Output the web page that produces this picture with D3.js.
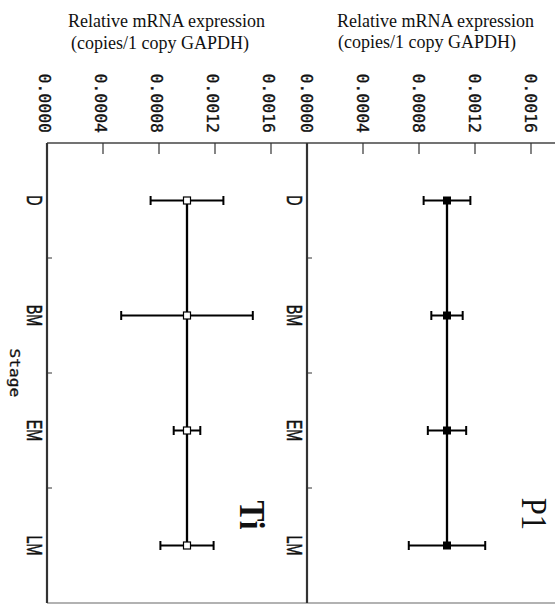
<!DOCTYPE html>
<html>
<head>
<meta charset="utf-8">
<script src="https://cdn.jsdelivr.net/npm/d3@7"></script>
<style>
  html, body { margin: 0; padding: 0; background: #fff; }
  svg { display: block; }
</style>
</head>
<body>
<svg id="chart" width="555" height="604"></svg>
<script>
// ---- data ----
const stages = ["D", "BM", "EM", "LM"];
const valueTicks = [0, 0.0004, 0.0008, 0.0012, 0.0016];
const tiMean = [0.00100, 0.00100, 0.00100, 0.00100];
const tiErr  = [0.00026, 0.00047, 0.000095, 0.00019];
const p1Mean = [0.00100, 0.00100, 0.00100, 0.00100];
const p1Err  = [0.000167, 0.000112, 0.000137, 0.000273];
const titleLine1 = "Relative mRNA expression";
const titleLine2 = "(copies/1 copy GAPDH)";
const stageTitle = "Stage";

// ---- layout ----
const svg = d3.select("#chart");
const plotTop = 143, plotBottom = 603;
const pxPerUnit = 140000;

const panels = [
  { name: "Ti", x0: 47, mean: tiMean, err: tiErr, filled: false, bold: true,
    t1: [68, 27], t2: [71, 49], tickDx: -2, catX: 27, label: [240, 515, 35, 0.9] },
  { name: "P1", x0: 307, mean: p1Mean, err: p1Err, filled: true, bold: false,
    t1: [337, 27], t2: [338, 48], tickDx: 0, catX: 287, label: [522, 514, 36, 0.85] }
];

const yPoint = d3.scalePoint().domain(stages).range([plotTop, plotBottom]).padding(0.5);
const yBand = d3.scaleBand().domain(stages).range([plotTop, plotBottom]);

// top border line and bottom line
svg.append("line").attr("x1", 47).attr("x2", 555).attr("y1", plotTop).attr("y2", plotTop)
  .attr("stroke", "#444").attr("stroke-width", 1.5);
svg.append("line").attr("x1", 47).attr("x2", 555).attr("y1", plotBottom).attr("y2", plotBottom)
  .attr("stroke", "#999").attr("stroke-width", 1.5);

panels.forEach(p => {
  const x = d3.scaleLinear().domain([0, 0.0016]).range([p.x0, p.x0 + 0.0016 * pxPerUnit]);
  const g = svg.append("g");

  // titles
  g.append("text").attr("x", p.t1[0]).attr("y", p.t1[1]).text(titleLine1)
    .attr("font-family", "Liberation Serif, Times New Roman, serif").attr("font-size", 18).attr("fill", "#111");
  g.append("text").attr("x", p.t2[0]).attr("y", p.t2[1]).text(titleLine2)
    .attr("font-family", "Liberation Serif, Times New Roman, serif").attr("font-size", 18).attr("fill", "#111");

  // value ticks (pointing down from top border)
  valueTicks.forEach(v => {
    if (v > 0) {
      g.append("line").attr("x1", x(v)).attr("x2", x(v)).attr("y1", plotTop).attr("y2", plotTop + 11)
        .attr("stroke", "#333").attr("stroke-width", 1.2);
    }
    g.append("text")
      .attr("transform", `translate(${x(v) + p.tickDx},133) rotate(90)`)
      .attr("text-anchor", "end").attr("dy", "0.35em")
      .attr("font-family", "DejaVu Sans Mono, monospace").attr("font-size", 16.5)
      .attr("fill", "#111").attr("stroke", "#111").attr("stroke-width", 0.35)
      .text(d3.format(".4f")(v));
  });

  // category axis line
  g.append("line").attr("x1", p.x0).attr("x2", p.x0).attr("y1", plotTop).attr("y2", plotBottom)
    .attr("stroke", "#333").attr("stroke-width", 2.2);
  // category ticks at band boundaries
  stages.slice(1).forEach(s => {
    const yy = yBand(s);
    g.append("line").attr("x1", p.x0).attr("x2", p.x0 + 5).attr("y1", yy).attr("y2", yy)
      .attr("stroke", "#333").attr("stroke-width", 1);
  });
  // category labels
  stages.forEach(s => {
    g.append("text")
      .attr("transform", `translate(${p.catX},${yPoint(s)}) rotate(90) scale(0.65,1)`)
      .attr("text-anchor", "middle")
      .attr("font-family", "Liberation Sans, Arial, sans-serif").attr("font-size", 22)
      .attr("fill", "#111").attr("stroke", "#111").attr("stroke-width", 0.5)
      .text(s);
  });

  // connecting line
  const line = d3.line().x((d, i) => x(p.mean[i])).y(d => yPoint(d));
  g.append("path").datum(stages).attr("d", line).attr("fill", "none")
    .attr("stroke", "#000").attr("stroke-width", 2.3);

  // error bars
  stages.forEach((s, i) => {
    const yy = yPoint(s);
    const lo = x(p.mean[i] - p.err[i]), hi = x(p.mean[i] + p.err[i]);
    g.append("line").attr("x1", lo).attr("x2", hi).attr("y1", yy).attr("y2", yy)
      .attr("stroke", "#000").attr("stroke-width", 2);
    [lo, hi].forEach(xx => {
      g.append("line").attr("x1", xx).attr("x2", xx).attr("y1", yy - 4.5).attr("y2", yy + 4.5)
        .attr("stroke", "#000").attr("stroke-width", 2);
    });
  });

  // markers
  const ms = p.filled ? 8 : 7;
  stages.forEach((s, i) => {
    g.append("rect").attr("x", x(p.mean[i]) - ms / 2).attr("y", yPoint(s) - ms / 2)
      .attr("width", ms).attr("height", ms)
      .attr("fill", p.filled ? "#000" : "#fff")
      .attr("stroke", "#000").attr("stroke-width", p.filled ? 0 : 1.2);
  });

  // panel label
  g.append("text")
    .attr("transform", `translate(${p.label[0]},${p.label[1]}) rotate(90) scale(${p.label[3]},1)`)
    .attr("text-anchor", "middle")
    .attr("font-family", "Liberation Serif, Times New Roman, serif")
    .attr("font-weight", p.bold ? "bold" : "normal")
    .attr("font-size", p.label[2]).attr("fill", "#111")
    .text(p.name);
});

// Stage axis title
svg.append("text")
  .attr("transform", `translate(10,${yBand("EM")}) rotate(90) scale(1.2,1)`)
  .attr("text-anchor", "middle")
  .attr("font-family", "DejaVu Sans Mono, monospace").attr("font-size", 13.5)
  .attr("fill", "#111").attr("stroke", "#111").attr("stroke-width", 0.3)
  .text(stageTitle);
</script>
</body>
</html>
